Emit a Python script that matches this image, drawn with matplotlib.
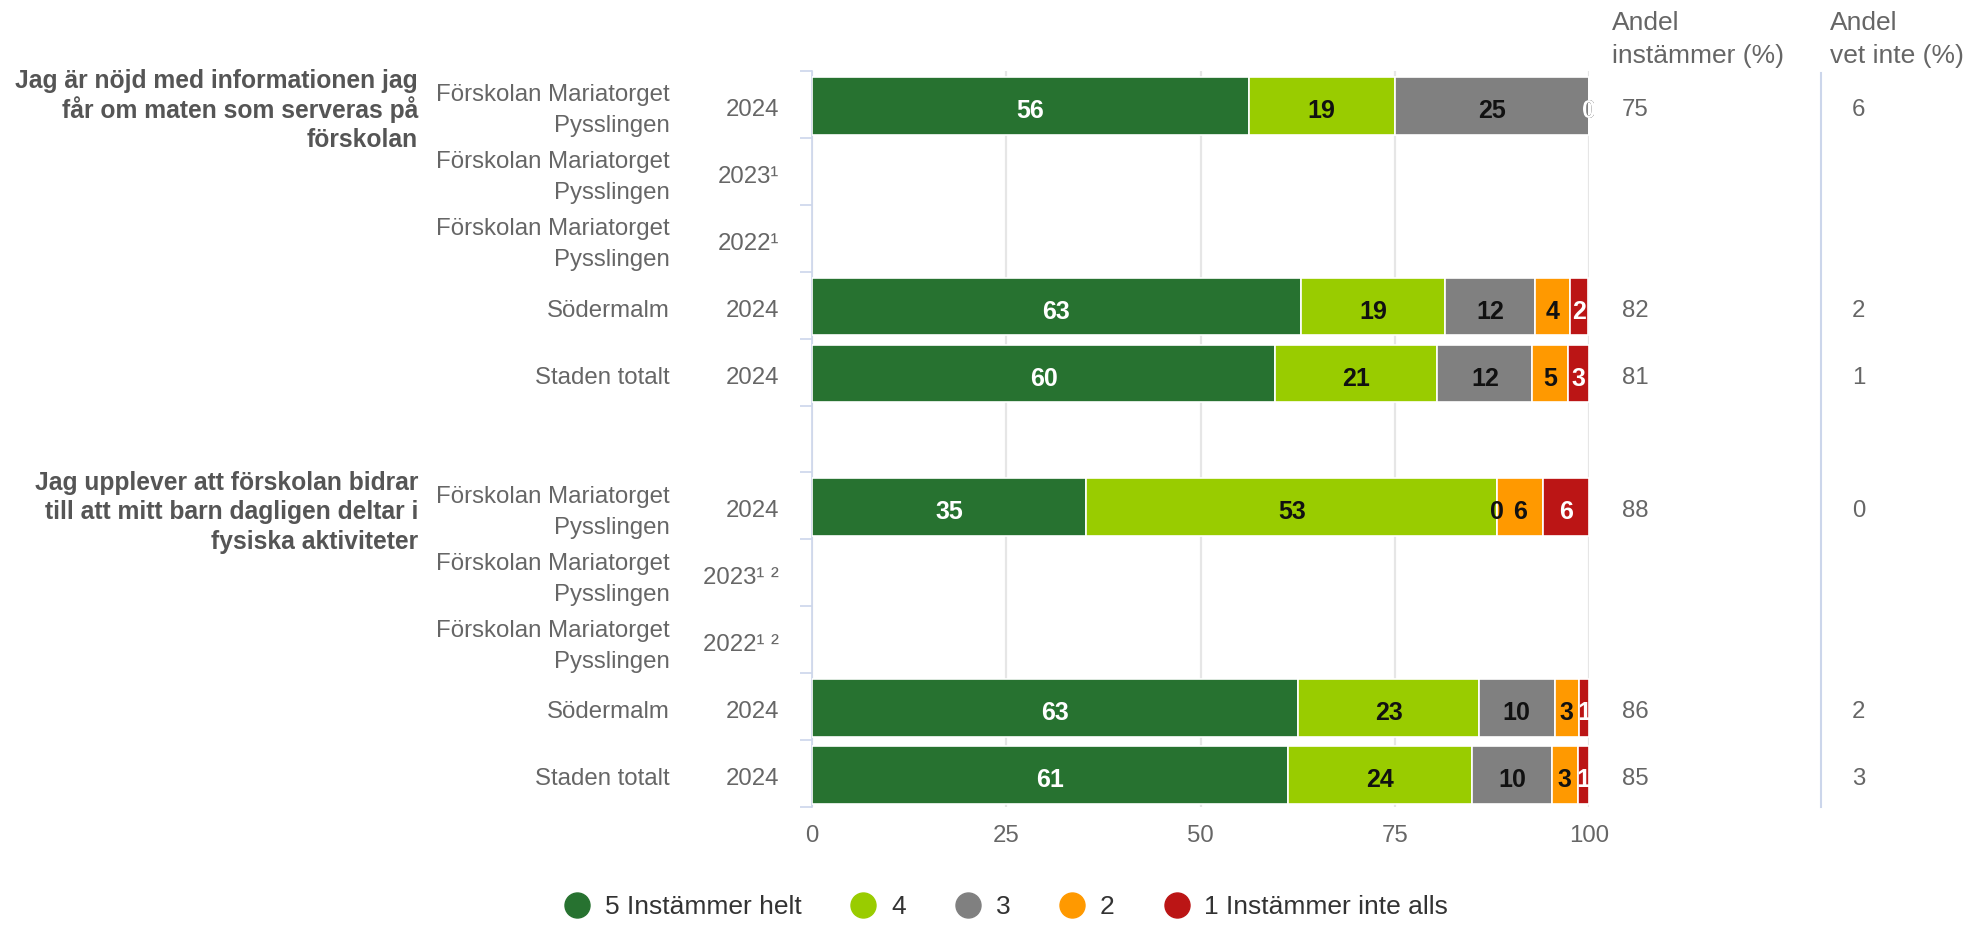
import numpy as np
import matplotlib
matplotlib.use("Agg")
import matplotlib.pyplot as plt
from matplotlib.lines import Line2D
from matplotlib.patches import Rectangle
from matplotlib.transforms import blended_transform_factory, offset_copy

plt.rcParams['font.family'] = ['Liberation Sans', 'DejaVu Sans']

# ---------------- data ----------------
questions = [
    "Jag är nöjd med informationen jag\nfår om maten som serveras på\nförskolan",
    "Jag upplever att förskolan bidrar\ntill att mitt barn dagligen deltar i\nfysiska aktiviteter",
]
units = ["Förskolan Mariatorget\nPysslingen", "Förskolan Mariatorget\nPysslingen",
         "Förskolan Mariatorget\nPysslingen", "Södermalm", "Staden totalt",
         "Förskolan Mariatorget\nPysslingen", "Förskolan Mariatorget\nPysslingen",
         "Förskolan Mariatorget\nPysslingen", "Södermalm", "Staden totalt"]
years = ["2024", "2023¹", "2022¹", "2024", "2024",
         "2024", "2023¹ ²", "2022¹ ²", "2024", "2024"]

nan = np.nan
s5 = [56.2, nan, nan, 62.9, 59.6, 35.3, nan, nan, 62.6, 61.2]
s4 = [18.8, nan, nan, 18.6, 20.9, 52.9, nan, nan, 23.2, 23.8]
s3 = [25.0, nan, nan, 11.6, 12.2, 0.0, nan, nan, 9.8, 10.2]
s2 = [0.0, nan, nan, 4.4, 4.6, 5.9, nan, nan, 3.1, 3.4]
s1 = [0.0, nan, nan, 2.4, 2.7, 5.9, nan, nan, 1.3, 1.4]

andel_instammer = ["75", "", "", "82", "81", "88", "", "", "86", "85"]
andel_vet_inte = ["6", "", "", "2", "1", "0", "", "", "2", "3"]

header_instammer = ["Andel", "instämmer (%)"]
header_vet_inte = ["Andel", "vet inte (%)"]

series_names = ["5 Instämmer helt", "4", "3", "2", "1 Instämmer inte alls"]
series_colors = ["#277230", "#99CC00", "#808080", "#FF9900", "#BB1515"]
label_colors = ["white", "#111111", "#111111", "#111111", "white"]

xticks = [0, 25, 50, 75, 100]

# ---------------- layout ----------------
W, H = 1970, 925
fig = plt.figure(figsize=(W / 100, H / 100), dpi=100)
L, R, T, B = 812, 1589, 71, 807
ax = fig.add_axes([L / W, 1 - B / H, (R - L) / W, (B - T) / H])

FS = 17.3        # ~24 px
FS_Q = 17.7      # question labels
FS_DL = 18.0     # data labels
FS_BIG = 19.0    # headers / legend
GRAY = "#666666"

ypos = np.array([0, 1, 2, 3, 4, 6, 7, 8, 9, 10])
clip_rect = Rectangle((0, -0.5), 100.6, 11, transform=ax.transData,
                      facecolor="none", edgecolor="none")
dl_trans = offset_copy(ax.transData, fig=fig, x=0, y=-13.5, units="dots")

left = np.zeros(len(ypos))
for vals, col, tcol, name in zip([s5, s4, s3, s2, s1], series_colors, label_colors, series_names):
    v = np.array(vals, dtype=float)
    m = ~np.isnan(v)
    ax.barh(ypos[m] + 0.02, v[m], left=left[m], height=0.86, color=col,
            edgecolor="white", linewidth=1.2, zorder=3)
    for y, l0, w in zip(ypos[m], left[m], v[m]):
        t = ax.text(l0 + w / 2, y, f"{int(round(w))}", transform=dl_trans,
                    ha="center", va="baseline", color=tcol, fontsize=FS_DL,
                    fontweight="bold", zorder=5, clip_on=True)
        t.set_clip_path(clip_rect)
    left[m] += v[m]

ax.set_xlim(0, 100)
ax.set_ylim(10.5, -0.5)
ax.set_xticks(xticks)
ax.set_xticklabels([str(t) for t in xticks])
ax.tick_params(axis="x", length=0, pad=13, labelsize=FS, labelcolor=GRAY)
ax.set_yticks(np.arange(-0.5, 11, 1))
ax.set_yticklabels([])
ax.tick_params(axis="y", length=9, width=1.2, color="#ccd6eb")
ax.grid(axis="x", color="#e6e6e6", linewidth=1.6, zorder=0)
ax.set_axisbelow(True)
for s in ["top", "right", "bottom"]:
    ax.spines[s].set_visible(False)
ax.spines["left"].set_color("#ccd6eb")
ax.spines["left"].set_linewidth(1.2)

# ---------------- text columns ----------------
tr = blended_transform_factory(fig.transFigure, ax.transData)


def put(txt, xpx, y, dy, **kw):
    ax.text(xpx / W, y, txt, transform=offset_copy(tr, fig=fig, x=0, y=-dy, units="dots"),
            va="baseline", clip_on=False, **kw)


for i, y in enumerate(ypos):
    lines = units[i].split("\n")
    offs = [11.5] if len(lines) == 1 else [-3.0, 28.0]
    for ln, dy in zip(lines, offs):
        put(ln, 670, y, dy, ha="right", fontsize=FS, color=GRAY)
    put(years[i], 779, y, 11.5, ha="right", fontsize=FS, color=GRAY)
    put(andel_instammer[i], 1622, y, 11.5, ha="left", fontsize=FS, color=GRAY)
    put(andel_vet_inte[i], 1852, y, 11.5, ha="left", fontsize=FS, color=GRAY)

for qi, y0 in enumerate([0, 6]):
    for k, ln in enumerate(questions[qi].split("\n")):
        put(ln, 418, y0, -16.0 + 29.5 * k, ha="right", fontsize=FS_Q,
            color="#555555", fontweight="bold")

for k, ln in enumerate(header_instammer):
    fig.text(1612 / W, 1 - (30 + 33 * k) / H, ln, ha="left", va="baseline",
             fontsize=FS_BIG, color=GRAY)
for k, ln in enumerate(header_vet_inte):
    fig.text(1830 / W, 1 - (30 + 33 * k) / H, ln, ha="left", va="baseline",
             fontsize=FS_BIG, color=GRAY)

fig.add_artist(Line2D([1821 / W, 1821 / W], [1 - 73 / H, 1 - 807 / H],
                      transform=fig.transFigure, color="#ccd6eb", linewidth=1.5))

# ---------------- legend ----------------
handles = [Line2D([], [], marker="o", linestyle="none", markersize=18,
                  markerfacecolor=c, markeredgecolor=c) for c in series_colors]
leg = fig.legend(handles, series_names, loc="center", ncol=5,
                 bbox_to_anchor=(1006 / W, 18 / H), frameon=False,
                 fontsize=FS_BIG, handlelength=1.0, handletextpad=0.55,
                 columnspacing=1.85, borderpad=0, borderaxespad=0)
for t in leg.get_texts():
    t.set_color("#333333")

fig.savefig("out.png", dpi=100)
